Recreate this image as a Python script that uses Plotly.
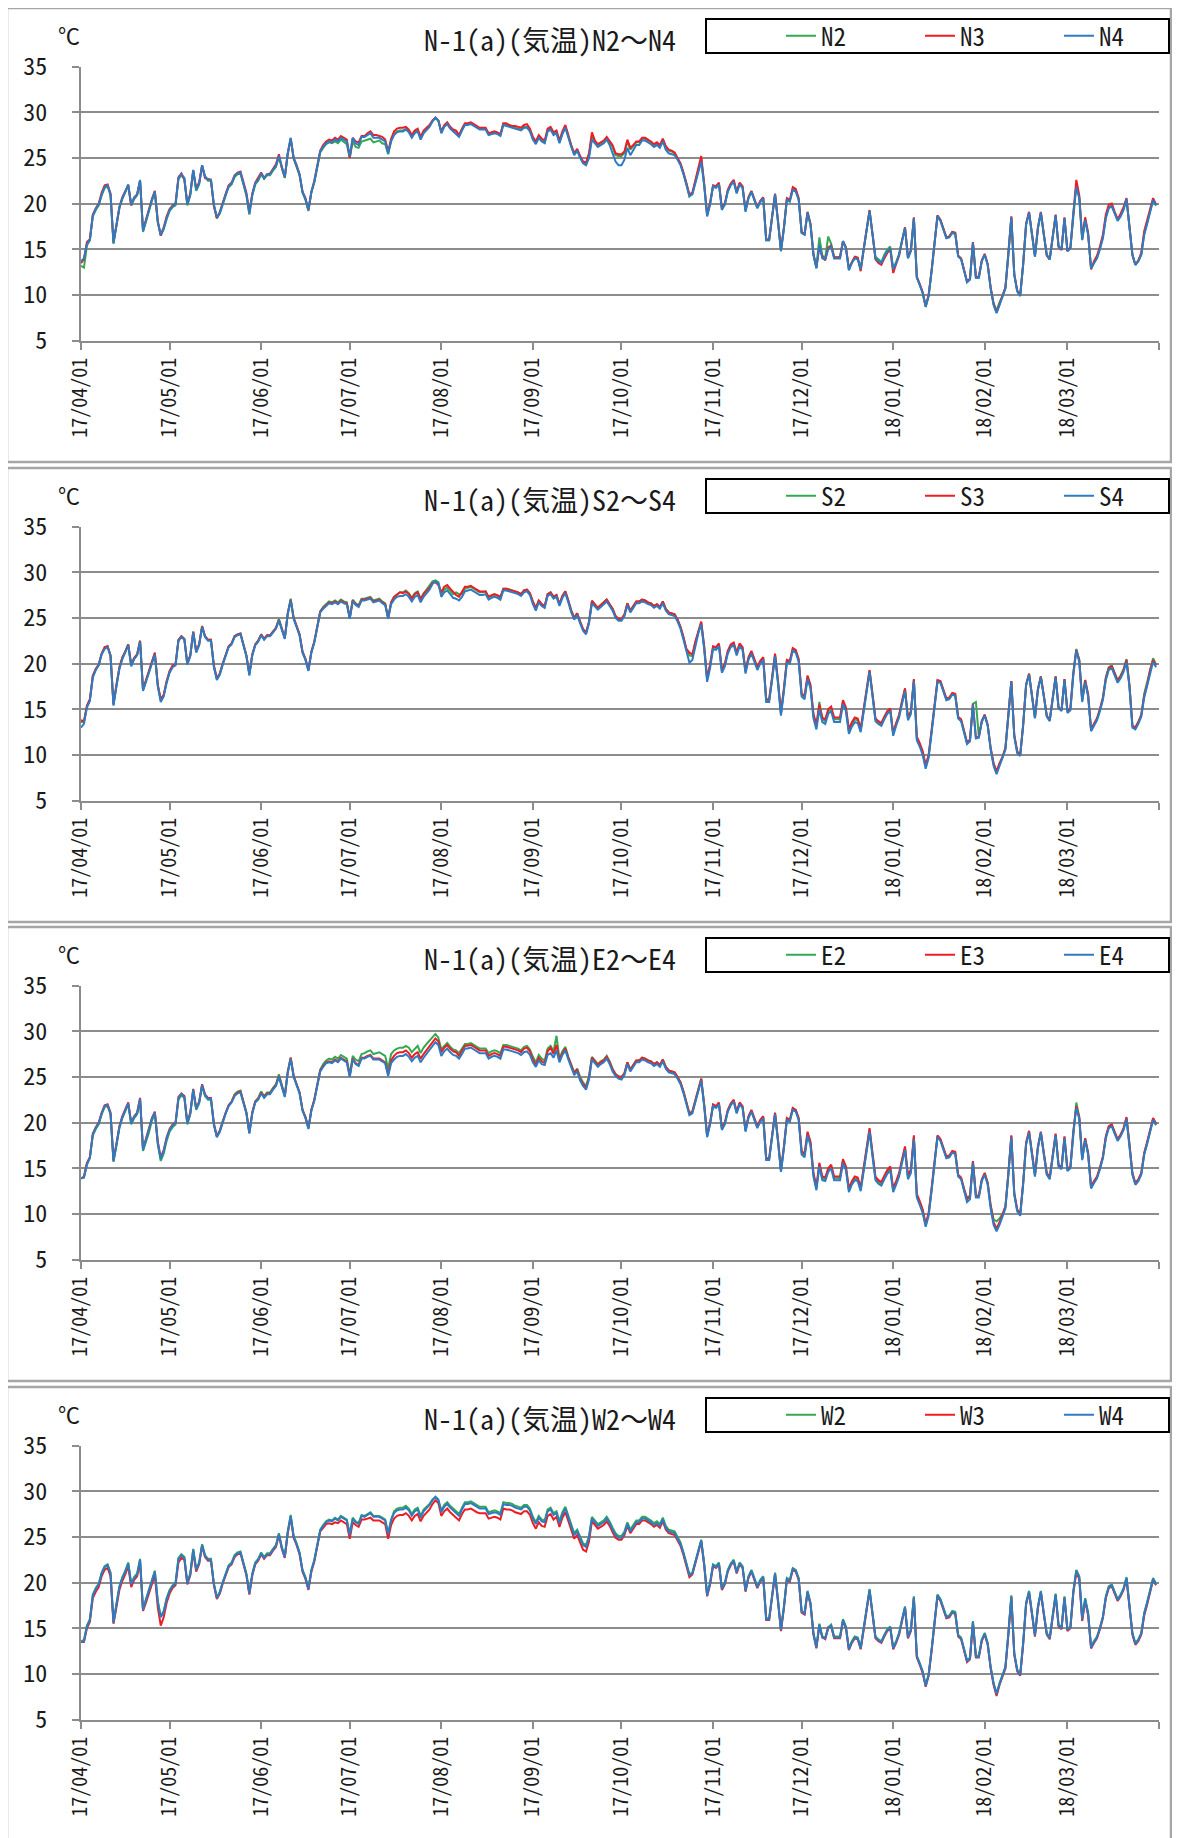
import pandas as pd
import plotly.graph_objects as go

# daily mean air temperature, 2017-04-01 .. 2018-03-31 (one value per day)
START = "2017-04-01"
END = "2018-04-01"

N2 = [
    13.2, 13.0, 15.4, 16.0, 18.6, 19.3, 19.8, 20.9, 21.7, 21.9, 20.9, 15.6, 17.6, 19.5, 20.5, 21.2, 22.0, 19.8, 20.5, 20.9, 22.5, 16.9, 18.1, 19.1, 20.3, 21.2, 17.9, 16.5, 17.2, 18.3,
    19.2, 19.6, 19.8, 22.7, 23.1, 22.7, 19.8, 20.9, 23.6, 21.4, 22.1, 24.1, 22.9, 22.5, 22.5, 19.8, 18.4, 18.9, 20.0, 20.9, 21.8, 22.1, 22.9, 23.2, 23.3, 22.1, 20.9, 18.8, 20.9, 22.1, 22.5,
    23.2, 22.7, 23.1, 23.1, 23.6, 24.0, 25.1, 23.8, 22.8, 25.4, 27.1, 24.9, 24.1, 23.1, 21.2, 20.4, 19.2, 21.2, 22.3, 24.1, 25.6, 26.1, 26.5, 26.7, 26.6, 26.8, 26.6, 27.0, 26.7, 26.5,
    25.0, 26.8, 26.2, 26.1, 26.8, 26.9, 27.0, 27.1, 26.7, 26.8, 26.9, 26.6, 26.5, 25.4, 26.9, 27.6, 27.9, 28.0, 28.0, 28.2, 27.9, 27.3, 27.8, 28.0, 27.1, 27.8, 28.1, 28.5, 29.0, 29.4, 29.1,
    27.8, 28.5, 28.8, 28.3, 28.0, 27.8, 27.4, 28.1, 28.7, 28.7, 28.8, 28.6, 28.4, 28.2, 28.2, 28.2, 27.6, 27.7, 27.8, 27.7, 27.5, 28.7, 28.6, 28.5, 28.4, 28.3, 28.2, 28.1, 28.4, 28.4, 28.0,
    27.1, 26.6, 27.3, 26.9, 26.7, 28.0, 28.2, 27.6, 27.8, 26.7, 27.7, 28.4, 27.3, 26.3, 25.4, 25.9, 25.1, 24.5, 24.3, 25.3, 27.4, 26.7, 26.3, 26.5, 26.7, 27.1, 26.6, 26.2, 25.3, 25.2,
    25.2, 25.5, 26.8, 25.9, 26.3, 26.7, 26.7, 27.1, 27.1, 26.9, 26.7, 26.4, 26.6, 26.3, 27.0, 26.2, 25.8, 25.7, 25.5, 24.9, 24.3, 23.3, 22.2, 20.8, 21.1, 22.4, 23.6, 24.9, 22.1, 18.7, 20.0,
    21.9, 21.8, 22.2, 19.4, 19.9, 21.4, 22.1, 22.5, 21.2, 22.2, 21.8, 19.2, 20.6, 21.3, 20.4, 19.5, 20.2, 20.6, 16.0, 16.0, 18.5, 21.0, 18.0, 14.8, 17.3, 20.5, 20.3, 21.6, 21.5, 20.5,
    16.8, 16.6, 19.0, 17.7, 14.4, 13.0, 16.3, 14.3, 14.1, 16.4, 15.6, 14.2, 14.1, 14.1, 15.9, 15.2, 12.8, 13.6, 14.1, 14.0, 12.9, 15.2, 17.3, 19.2, 16.7, 14.2, 13.9, 13.6, 14.4, 15.0, 15.3,
    12.9, 13.6, 14.5, 16.0, 17.4, 14.1, 14.9, 18.4, 11.9, 11.1, 10.2, 8.7, 9.9, 12.6, 15.5, 18.7, 18.2, 17.2, 16.3, 16.4, 16.9, 16.8, 14.3, 14.0, 12.6, 11.4, 11.7, 15.7, 11.9, 11.9, 13.7,
    14.4, 13.3, 10.8, 9.1, 8.3, 9.2, 9.9, 10.8, 14.4, 18.5, 12.2, 10.4, 9.9, 13.3, 17.7, 19.0, 16.6, 14.2, 17.3, 19.0, 16.6, 14.4, 13.9, 16.6, 18.7, 15.3, 15.0, 18.4,
    14.8, 15.1, 19.0, 22.0, 20.7, 16.1, 18.3, 16.7, 12.9, 13.5, 14.1, 15.1, 16.3, 18.5, 19.6, 19.8, 18.9, 18.2, 18.7, 19.4, 20.5, 17.7, 14.4, 13.3, 13.7, 14.4, 16.7, 17.9, 19.2, 20.4, 19.8,
]
N3 = [
    13.5, 13.9, 15.8, 16.1, 18.8, 19.5, 20.0, 21.2, 22.0, 22.1, 21.1, 15.8, 17.6, 19.6, 20.7, 21.3, 22.0, 19.8, 20.7, 21.0, 22.5, 17.1, 18.3, 19.3, 20.5, 21.4, 18.1, 16.5, 17.4, 18.6,
    19.4, 19.8, 20.0, 22.9, 23.3, 22.6, 20.0, 21.1, 23.6, 21.7, 22.3, 24.2, 22.8, 22.7, 22.6, 19.7, 18.4, 19.1, 20.2, 21.1, 22.0, 22.3, 23.1, 23.4, 23.5, 22.3, 21.2, 19.1, 21.1, 22.3, 22.8,
    23.4, 22.8, 23.2, 23.3, 23.8, 24.3, 25.4, 23.9, 22.9, 25.5, 27.1, 25.0, 24.2, 23.2, 21.3, 20.6, 19.3, 21.3, 22.5, 24.3, 25.8, 26.4, 26.8, 27.0, 26.9, 27.2, 27.0, 27.4, 27.2, 27.0,
    25.0, 27.2, 26.8, 26.7, 27.4, 27.4, 27.7, 27.9, 27.5, 27.5, 27.4, 27.3, 27.0, 25.7, 27.1, 27.9, 28.2, 28.3, 28.3, 28.4, 28.1, 27.5, 28.0, 28.2, 27.3, 28.0, 28.3, 28.6, 29.1, 29.4, 29.1,
    27.9, 28.6, 28.9, 28.4, 28.1, 28.0, 27.5, 28.2, 28.8, 28.8, 28.9, 28.7, 28.5, 28.3, 28.3, 28.3, 27.7, 27.8, 27.9, 27.8, 27.6, 28.8, 28.8, 28.6, 28.5, 28.5, 28.4, 28.3, 28.6, 28.7, 28.2,
    27.3, 26.8, 27.5, 27.1, 26.9, 28.2, 28.4, 27.8, 28.0, 26.9, 27.9, 28.6, 27.4, 26.4, 25.5, 26.0, 25.2, 24.6, 24.5, 25.5, 27.8, 26.9, 26.5, 26.7, 26.9, 27.3, 26.8, 26.4, 25.5, 25.4,
    25.4, 25.7, 27.0, 26.1, 26.4, 26.8, 26.8, 27.2, 27.2, 27.0, 26.8, 26.5, 26.7, 26.4, 27.1, 26.3, 25.9, 25.8, 25.6, 25.0, 24.4, 23.4, 22.3, 21.0, 21.2, 22.5, 23.8, 25.2, 22.2, 18.8, 20.1,
    22.0, 21.9, 22.3, 19.5, 20.0, 21.5, 22.2, 22.6, 21.3, 22.3, 21.9, 19.3, 20.7, 21.4, 20.5, 19.6, 20.3, 20.7, 16.1, 16.1, 18.6, 21.1, 18.1, 14.9, 17.4, 20.6, 20.4, 21.8, 21.6, 20.6,
    16.9, 16.7, 19.1, 17.8, 14.5, 13.0, 15.3, 14.2, 13.8, 15.2, 15.4, 14.1, 14.1, 14.2, 15.9, 15.2, 12.9, 13.6, 14.2, 14.1, 12.6, 15.0, 17.4, 19.3, 16.7, 13.9, 13.5, 13.3, 14.0, 14.6, 15.0,
    12.4, 13.4, 14.3, 15.9, 17.4, 14.1, 14.9, 18.5, 12.0, 11.2, 10.3, 8.8, 10.0, 12.7, 15.6, 18.7, 18.2, 17.2, 16.3, 16.4, 16.9, 16.8, 14.3, 14.0, 12.7, 11.5, 11.8, 15.8, 12.0, 12.0, 13.8,
    14.5, 13.4, 10.8, 9.0, 8.1, 9.0, 9.8, 10.8, 14.5, 18.6, 12.3, 10.5, 10.0, 13.4, 17.8, 19.1, 16.7, 14.3, 17.4, 19.1, 16.7, 14.3, 13.9, 16.7, 18.8, 15.3, 14.9, 18.5,
    14.8, 15.2, 19.1, 22.6, 20.9, 16.2, 18.5, 16.8, 12.8, 13.7, 14.3, 15.3, 16.6, 18.8, 19.9, 20.0, 19.1, 18.3, 18.9, 19.6, 20.6, 17.8, 14.4, 13.3, 13.8, 14.6, 17.0, 18.2, 19.4, 20.6, 19.9,
]
N4 = [
    13.7, 14.0, 15.6, 16.0, 18.7, 19.4, 19.9, 21.0, 21.8, 22.0, 21.0, 15.7, 17.7, 19.6, 20.6, 21.3, 22.1, 19.9, 20.6, 21.0, 22.6, 17.0, 18.2, 19.2, 20.4, 21.3, 18.0, 16.6, 17.3, 18.4,
    19.3, 19.7, 19.9, 22.8, 23.2, 22.8, 19.9, 21.0, 23.7, 21.5, 22.2, 24.2, 23.0, 22.6, 22.6, 19.9, 18.5, 19.0, 20.1, 21.0, 21.9, 22.2, 23.0, 23.3, 23.4, 22.2, 21.0, 18.9, 21.0, 22.2, 22.6,
    23.3, 22.8, 23.2, 23.2, 23.7, 24.1, 25.2, 23.9, 22.9, 25.5, 27.2, 25.0, 24.2, 23.2, 21.3, 20.5, 19.3, 21.3, 22.4, 24.2, 25.7, 26.2, 26.6, 26.8, 26.7, 27.0, 26.8, 27.2, 27.0, 26.8,
    25.2, 27.2, 26.6, 26.4, 27.3, 27.3, 27.5, 27.7, 27.2, 27.2, 27.2, 27.0, 26.8, 25.5, 26.8, 27.5, 27.8, 27.9, 27.9, 28.1, 27.8, 27.2, 27.7, 27.9, 27.0, 27.7, 28.0, 28.4, 29.0, 29.4, 29.1,
    27.7, 28.4, 28.7, 28.2, 27.9, 27.7, 27.3, 28.0, 28.6, 28.6, 28.7, 28.5, 28.3, 28.1, 28.1, 28.1, 27.5, 27.6, 27.7, 27.6, 27.4, 28.6, 28.5, 28.4, 28.3, 28.2, 28.1, 28.0, 28.3, 28.3, 27.9,
    27.0, 26.5, 27.2, 26.8, 26.6, 27.9, 28.1, 27.5, 27.7, 26.6, 27.6, 28.3, 27.2, 26.2, 25.3, 25.8, 25.0, 24.4, 24.2, 25.0, 27.0, 26.6, 26.2, 26.4, 26.6, 27.0, 26.4, 25.5, 24.6, 24.2,
    24.2, 24.8, 26.1, 25.3, 25.9, 26.4, 26.4, 26.9, 26.9, 26.7, 26.5, 26.2, 26.4, 26.1, 26.8, 25.9, 25.5, 25.4, 25.3, 24.8, 24.2, 23.2, 22.1, 20.8, 21.0, 22.3, 23.5, 24.6, 22.0, 18.6, 19.9,
    21.9, 21.7, 22.1, 19.3, 19.9, 21.3, 22.0, 22.4, 21.1, 22.1, 21.7, 19.1, 20.6, 21.3, 20.4, 19.5, 20.2, 20.6, 16.0, 16.0, 18.5, 21.0, 18.0, 14.8, 17.3, 20.4, 20.2, 21.5, 21.3, 20.4,
    16.8, 16.6, 19.0, 17.7, 14.4, 12.9, 15.5, 14.0, 13.9, 15.0, 15.3, 14.0, 14.0, 14.0, 15.9, 15.1, 12.7, 13.5, 14.0, 13.9, 12.8, 15.1, 17.3, 19.2, 16.6, 14.0, 13.7, 13.5, 14.2, 14.8, 15.1,
    12.8, 13.5, 14.4, 15.9, 17.3, 14.0, 14.8, 18.4, 11.9, 11.1, 10.2, 8.7, 9.9, 12.6, 15.5, 18.6, 18.1, 17.1, 16.2, 16.3, 16.8, 16.7, 14.2, 13.9, 12.6, 11.4, 11.7, 15.7, 11.9, 11.9, 13.7,
    14.4, 13.3, 10.7, 8.9, 8.0, 8.9, 9.7, 10.7, 14.4, 18.5, 12.2, 10.4, 9.9, 13.3, 17.7, 19.0, 16.6, 14.2, 17.3, 19.0, 16.6, 14.4, 13.9, 16.6, 18.7, 15.3, 15.0, 18.4,
    14.8, 15.1, 19.0, 21.8, 20.6, 16.0, 18.2, 16.6, 12.9, 13.5, 14.0, 15.0, 16.2, 18.4, 19.5, 19.7, 18.8, 18.1, 18.6, 19.3, 20.5, 17.7, 14.4, 13.3, 13.7, 14.4, 16.6, 17.8, 19.1, 20.4, 19.8,
]

S2 = [
    13.6, 13.6, 15.3, 16.0, 18.6, 19.4, 19.9, 21.1, 21.7, 21.9, 20.9, 15.5, 17.6, 19.5, 20.6, 21.3, 22.1, 19.8, 20.6, 21.0, 22.5, 17.1, 18.1, 19.1, 20.3, 21.1, 17.6, 16.0, 16.5, 18.0,
    19.1, 19.7, 19.9, 22.6, 23.0, 22.7, 20.0, 20.9, 23.5, 21.3, 22.1, 24.1, 23.0, 22.6, 22.6, 19.7, 18.3, 18.9, 20.0, 20.9, 21.9, 22.2, 23.0, 23.2, 23.3, 22.1, 20.9, 18.8, 21.0, 22.1, 22.5,
    23.2, 22.7, 23.1, 23.1, 23.5, 23.9, 24.9, 23.8, 22.8, 25.5, 27.1, 25.0, 24.2, 23.2, 21.3, 20.5, 19.3, 21.3, 22.4, 24.1, 25.7, 26.2, 26.5, 26.8, 26.7, 26.9, 26.7, 27.0, 26.8, 26.7,
    25.0, 27.0, 26.6, 26.4, 27.1, 27.1, 27.2, 27.3, 26.9, 27.0, 27.1, 26.8, 26.6, 25.0, 26.7, 27.3, 27.6, 27.8, 27.8, 28.0, 27.7, 27.2, 27.7, 27.9, 27.1, 27.7, 28.1, 28.5, 29.0, 29.1, 28.9,
    27.6, 28.1, 28.3, 27.9, 27.6, 27.8, 27.6, 27.6, 28.2, 28.3, 28.4, 28.2, 28.0, 27.8, 27.8, 27.9, 27.3, 27.4, 27.5, 27.4, 27.2, 28.2, 28.2, 28.1, 28.0, 27.9, 27.8, 27.6, 28.0, 28.1, 27.7,
    26.7, 26.0, 26.9, 26.5, 26.3, 27.6, 27.8, 27.3, 27.5, 26.5, 27.4, 27.9, 26.9, 25.8, 25.0, 25.5, 24.6, 23.7, 23.3, 24.5, 26.8, 26.5, 26.1, 26.4, 26.7, 27.0, 26.5, 26.0, 25.2, 24.8,
    24.8, 25.3, 26.6, 25.8, 26.3, 26.8, 26.8, 27.0, 26.9, 26.7, 26.6, 26.3, 26.5, 26.2, 26.8, 26.0, 25.6, 25.5, 25.4, 24.8, 24.0, 22.8, 21.5, 20.9, 20.8, 22.3, 23.5, 24.5, 21.8, 18.2, 19.8,
    21.8, 21.7, 22.1, 19.2, 19.9, 21.3, 22.0, 22.2, 21.1, 22.1, 21.7, 19.1, 20.6, 21.3, 20.4, 19.5, 20.2, 20.6, 16.0, 16.0, 18.4, 21.0, 18.0, 14.5, 17.2, 20.3, 20.2, 21.6, 21.4, 20.4,
    16.6, 16.3, 18.5, 17.5, 14.3, 13.1, 15.8, 13.9, 13.7, 14.8, 15.1, 13.9, 13.9, 13.9, 15.8, 15.0, 12.6, 13.4, 13.9, 13.8, 12.7, 15.0, 17.2, 19.2, 16.6, 13.9, 13.6, 13.4, 14.1, 14.7, 15.0,
    12.3, 13.4, 14.3, 15.8, 17.2, 14.0, 14.7, 18.2, 11.8, 11.1, 10.2, 8.7, 9.9, 12.6, 15.5, 18.1, 18.0, 17.0, 16.1, 16.2, 16.7, 16.6, 14.1, 13.8, 12.5, 11.3, 11.6, 15.6, 15.8, 12.0, 13.7,
    14.4, 13.3, 10.7, 9.0, 8.1, 9.0, 9.7, 10.7, 14.4, 18.1, 12.1, 10.3, 10.0, 13.3, 17.7, 18.9, 16.5, 14.1, 17.2, 18.6, 16.5, 14.3, 13.8, 16.5, 18.6, 15.2, 14.9, 18.3,
    14.8, 15.1, 19.0, 21.6, 20.4, 16.0, 18.2, 16.6, 12.8, 13.4, 14.0, 15.0, 16.3, 18.5, 19.6, 19.8, 18.9, 18.2, 18.7, 19.4, 20.5, 17.7, 13.2, 13.0, 13.6, 14.4, 16.7, 17.9, 19.4, 20.6, 19.9,
]
S3 = [
    13.8, 13.7, 15.4, 16.1, 18.7, 19.4, 19.9, 21.1, 21.8, 21.9, 20.9, 15.6, 17.7, 19.6, 20.7, 21.3, 22.1, 19.9, 20.6, 21.0, 22.5, 17.2, 18.2, 19.2, 20.4, 21.2, 17.7, 16.1, 16.6, 18.1,
    19.2, 19.8, 19.9, 22.6, 23.0, 22.7, 20.0, 20.9, 23.5, 21.4, 22.1, 24.1, 23.0, 22.6, 22.6, 19.8, 18.4, 18.9, 20.0, 20.9, 21.9, 22.2, 23.0, 23.2, 23.3, 22.1, 20.9, 18.9, 21.0, 22.1, 22.5,
    23.2, 22.7, 23.1, 23.1, 23.5, 23.9, 24.8, 23.8, 22.8, 25.5, 27.0, 25.0, 24.2, 23.2, 21.3, 20.5, 19.3, 21.3, 22.4, 24.1, 25.7, 26.1, 26.4, 26.7, 26.6, 26.8, 26.6, 26.9, 26.7, 26.6,
    25.0, 26.9, 26.5, 26.3, 27.0, 27.0, 27.1, 27.2, 26.8, 26.9, 27.0, 26.7, 26.5, 25.0, 26.7, 27.3, 27.6, 27.8, 27.7, 27.9, 27.6, 27.1, 27.6, 27.8, 27.0, 27.6, 28.0, 28.3, 28.8, 28.9, 28.6,
    27.8, 28.4, 28.6, 28.2, 27.8, 27.5, 27.3, 27.8, 28.4, 28.4, 28.5, 28.3, 28.1, 27.9, 27.9, 27.9, 27.3, 27.5, 27.6, 27.5, 27.3, 28.2, 28.2, 28.1, 28.0, 27.9, 27.8, 27.6, 28.0, 28.1, 27.7,
    26.8, 26.1, 26.9, 26.5, 26.3, 27.6, 27.8, 27.3, 27.5, 26.5, 27.4, 27.9, 26.9, 25.8, 25.0, 25.5, 24.6, 23.8, 23.4, 24.6, 26.9, 26.5, 26.1, 26.4, 26.7, 27.0, 26.5, 26.0, 25.2, 24.9,
    24.9, 25.4, 26.6, 25.8, 26.3, 26.8, 26.8, 27.0, 26.9, 26.7, 26.6, 26.3, 26.5, 26.2, 26.8, 26.0, 25.6, 25.5, 25.4, 24.8, 24.0, 22.9, 21.6, 21.2, 21.0, 22.4, 23.6, 24.6, 21.9, 18.4, 19.9,
    21.9, 21.8, 22.2, 19.3, 20.0, 21.4, 22.1, 22.3, 21.2, 22.2, 21.8, 19.2, 20.7, 21.4, 20.5, 19.6, 20.3, 20.7, 16.1, 16.1, 18.5, 21.1, 18.1, 14.6, 17.3, 20.4, 20.3, 21.7, 21.5, 20.5,
    16.7, 16.5, 18.7, 17.7, 14.5, 13.3, 15.5, 14.1, 13.9, 15.0, 15.3, 14.1, 14.1, 14.1, 16.0, 15.2, 12.8, 13.6, 14.1, 14.0, 12.9, 15.2, 17.3, 19.3, 16.7, 14.0, 13.7, 13.5, 14.2, 14.8, 15.1,
    12.4, 13.5, 14.4, 15.9, 17.3, 14.1, 14.8, 18.3, 12.0, 11.3, 10.4, 8.9, 10.0, 12.7, 15.6, 18.2, 18.1, 17.1, 16.2, 16.3, 16.8, 16.7, 14.2, 13.9, 12.6, 11.4, 11.7, 15.6, 11.9, 12.0, 13.7,
    14.4, 13.3, 10.8, 9.1, 8.2, 9.1, 9.8, 10.8, 14.4, 18.1, 12.2, 10.4, 10.0, 13.3, 17.7, 18.9, 16.5, 14.1, 17.2, 18.6, 16.5, 14.3, 13.8, 16.5, 18.6, 15.2, 14.9, 18.3,
    14.8, 15.1, 19.0, 21.5, 20.4, 16.0, 18.2, 16.6, 12.8, 13.4, 14.0, 15.0, 16.2, 18.4, 19.5, 19.7, 18.8, 18.1, 18.6, 19.3, 20.4, 17.6, 13.2, 13.0, 13.6, 14.4, 16.5, 17.7, 19.3, 20.4, 19.8,
]
S4 = [
    13.0, 13.4, 15.2, 15.9, 18.5, 19.3, 19.8, 21.0, 21.6, 21.8, 20.8, 15.4, 17.5, 19.4, 20.5, 21.2, 22.0, 19.7, 20.5, 20.9, 22.4, 17.0, 18.0, 19.0, 20.2, 21.0, 17.5, 15.8, 16.4, 17.9,
    19.0, 19.6, 19.8, 22.5, 22.9, 22.6, 19.9, 20.8, 23.4, 21.2, 22.0, 24.0, 22.9, 22.5, 22.5, 19.6, 18.2, 18.8, 19.9, 20.8, 21.8, 22.1, 22.9, 23.1, 23.2, 22.0, 20.8, 18.7, 20.9, 22.0, 22.4,
    23.1, 22.6, 23.0, 23.0, 23.4, 23.8, 24.7, 23.7, 22.7, 25.4, 26.9, 24.9, 24.1, 23.1, 21.2, 20.4, 19.2, 21.2, 22.3, 24.0, 25.6, 26.0, 26.3, 26.6, 26.5, 26.7, 26.5, 26.8, 26.6, 26.5,
    24.9, 26.8, 26.4, 26.2, 26.9, 26.9, 27.0, 27.1, 26.7, 26.8, 26.9, 26.6, 26.4, 24.9, 26.5, 27.0, 27.3, 27.4, 27.4, 27.6, 27.3, 26.8, 27.3, 27.5, 26.7, 27.3, 27.7, 28.1, 28.7, 29.0, 28.8,
    27.3, 27.8, 28.0, 27.6, 27.2, 27.1, 26.9, 27.3, 27.9, 28.0, 28.1, 27.9, 27.7, 27.5, 27.5, 27.6, 27.0, 27.2, 27.3, 27.2, 27.0, 28.0, 28.0, 27.9, 27.8, 27.7, 27.6, 27.4, 27.8, 27.9, 27.5,
    26.5, 25.8, 26.7, 26.3, 26.1, 27.4, 27.6, 27.1, 27.3, 26.3, 27.2, 27.7, 26.7, 25.6, 24.8, 25.3, 24.4, 23.6, 23.2, 24.4, 26.6, 26.3, 25.9, 26.2, 26.5, 26.8, 26.3, 25.8, 25.0, 24.7,
    24.7, 25.2, 26.4, 25.6, 26.1, 26.6, 26.6, 26.8, 26.7, 26.5, 26.4, 26.1, 26.3, 26.0, 26.6, 25.8, 25.4, 25.3, 25.2, 24.6, 23.8, 22.6, 21.2, 20.1, 20.4, 22.0, 23.3, 24.3, 21.6, 18.0, 19.5,
    21.6, 21.5, 21.9, 19.0, 19.7, 21.1, 21.8, 22.0, 20.9, 21.9, 21.5, 18.9, 20.4, 21.1, 20.2, 19.3, 20.0, 20.4, 15.8, 15.8, 18.2, 20.8, 17.8, 14.3, 17.0, 20.1, 20.0, 21.4, 21.2, 20.2,
    16.4, 16.1, 18.3, 17.3, 14.0, 12.8, 15.0, 13.6, 13.4, 14.5, 14.8, 13.6, 13.6, 13.6, 15.6, 14.8, 12.3, 13.1, 13.6, 13.5, 12.5, 14.8, 17.0, 19.1, 16.4, 13.7, 13.4, 13.2, 13.9, 14.5, 14.8,
    12.1, 13.2, 14.1, 15.6, 17.0, 13.8, 14.5, 18.1, 11.6, 10.9, 10.0, 8.5, 9.7, 12.4, 15.3, 18.0, 17.9, 16.9, 16.0, 16.1, 16.6, 16.5, 14.0, 13.7, 12.4, 11.2, 11.5, 15.5, 11.8, 11.9, 13.6,
    14.3, 13.2, 10.6, 8.8, 7.9, 8.8, 9.6, 10.6, 14.3, 18.0, 12.0, 10.2, 9.9, 13.2, 17.6, 18.8, 16.4, 14.0, 17.1, 18.5, 16.4, 14.2, 13.7, 16.4, 18.5, 15.1, 14.8, 18.2,
    14.6, 14.9, 18.8, 21.4, 20.2, 15.8, 18.0, 16.4, 12.6, 13.2, 13.8, 14.8, 16.0, 18.2, 19.3, 19.5, 18.6, 17.9, 18.4, 19.1, 20.2, 17.4, 13.0, 12.8, 13.4, 14.2, 16.3, 17.5, 19.0, 20.2, 19.6,
]

E2 = [
    13.9, 14.0, 15.4, 16.1, 18.6, 19.3, 19.8, 20.9, 21.7, 21.8, 20.9, 15.7, 17.5, 19.4, 20.5, 21.2, 22.0, 19.8, 20.5, 20.9, 22.5, 16.9, 17.9, 18.9, 20.2, 21.0, 17.6, 15.8, 16.6, 18.0,
    19.0, 19.5, 19.8, 22.5, 23.0, 22.7, 19.8, 20.9, 23.5, 21.4, 22.1, 24.0, 22.9, 22.5, 22.5, 19.7, 18.5, 19.1, 20.2, 21.1, 21.9, 22.3, 23.1, 23.4, 23.5, 22.3, 21.1, 18.9, 21.1, 22.3, 22.7,
    23.4, 22.9, 23.3, 23.3, 23.8, 24.2, 25.3, 24.0, 23.0, 25.6, 27.1, 25.1, 24.3, 23.3, 21.4, 20.6, 19.4, 21.4, 22.5, 24.3, 25.8, 26.4, 26.8, 27.0, 26.9, 27.2, 27.0, 27.4, 27.2, 27.0,
    25.2, 27.3, 26.9, 26.7, 27.5, 27.6, 27.8, 27.9, 27.5, 27.6, 27.7, 27.5, 27.3, 25.9, 27.5, 27.9, 28.1, 28.2, 28.2, 28.4, 28.2, 27.7, 28.1, 28.4, 27.6, 28.2, 28.6, 29.0, 29.4, 29.7, 29.3,
    28.0, 28.4, 28.7, 28.3, 28.0, 27.9, 27.6, 28.1, 28.6, 28.6, 28.7, 28.5, 28.3, 28.1, 28.1, 28.1, 27.6, 27.8, 27.9, 27.8, 27.6, 28.5, 28.5, 28.4, 28.3, 28.2, 28.1, 27.9, 28.3, 28.4, 28.0,
    27.2, 26.6, 27.4, 27.0, 26.8, 28.1, 28.4, 27.8, 29.5, 27.0, 27.8, 28.3, 27.2, 26.3, 25.5, 25.9, 25.0, 24.4, 24.0, 25.1, 27.2, 26.8, 26.4, 26.7, 26.9, 27.3, 26.7, 25.9, 25.3, 25.1,
    25.0, 25.4, 26.6, 25.8, 26.3, 26.8, 26.8, 27.1, 27.0, 26.8, 26.7, 26.4, 26.6, 26.3, 26.9, 26.1, 25.7, 25.6, 25.5, 25.0, 24.4, 23.4, 22.3, 21.0, 21.2, 22.5, 23.7, 24.8, 22.0, 18.5, 19.9,
    21.9, 21.7, 22.1, 19.3, 19.9, 21.3, 22.0, 22.4, 21.1, 22.1, 21.7, 19.1, 20.6, 21.3, 20.4, 19.5, 20.2, 20.6, 16.0, 16.0, 18.5, 21.0, 18.0, 14.7, 17.3, 20.4, 20.2, 21.6, 21.4, 20.4,
    16.7, 16.4, 18.8, 17.7, 14.3, 12.8, 15.4, 13.9, 13.8, 14.8, 15.2, 13.9, 13.9, 13.9, 15.8, 15.0, 12.6, 13.4, 13.9, 13.8, 12.7, 15.0, 17.2, 19.2, 16.5, 13.9, 13.5, 13.3, 14.0, 14.6, 15.0,
    12.6, 13.4, 14.3, 15.8, 17.2, 14.0, 14.7, 18.4, 12.0, 11.2, 10.3, 8.8, 10.0, 12.7, 15.6, 18.5, 18.1, 17.1, 16.2, 16.3, 16.8, 16.7, 14.2, 13.9, 12.6, 11.8, 12.0, 15.7, 12.1, 11.9, 13.7,
    14.4, 13.4, 11.0, 9.4, 9.2, 9.5, 10.0, 10.8, 14.4, 18.5, 12.2, 10.4, 9.9, 13.3, 17.7, 19.0, 16.6, 14.2, 17.3, 18.9, 16.6, 14.4, 13.9, 16.6, 18.7, 15.3, 15.0, 18.4,
    14.8, 15.1, 19.0, 22.2, 20.6, 16.0, 18.2, 16.6, 12.9, 13.5, 14.0, 15.0, 16.2, 18.4, 19.5, 19.8, 18.8, 18.1, 18.6, 19.3, 20.5, 17.7, 14.4, 13.3, 13.7, 14.4, 16.6, 17.8, 19.1, 20.4, 19.8,
]
E3 = [
    13.9, 14.1, 15.6, 16.2, 18.8, 19.5, 20.0, 21.1, 21.9, 22.0, 21.1, 15.9, 17.7, 19.6, 20.7, 21.4, 22.2, 20.0, 20.7, 21.1, 22.7, 17.1, 18.2, 19.2, 20.5, 21.2, 17.9, 16.2, 17.0, 18.4,
    19.3, 19.8, 20.0, 22.8, 23.2, 22.9, 20.0, 21.1, 23.7, 21.6, 22.3, 24.2, 23.1, 22.7, 22.7, 19.9, 18.5, 19.1, 20.2, 21.1, 21.9, 22.3, 23.0, 23.3, 23.4, 22.3, 21.1, 18.9, 21.1, 22.3, 22.6,
    23.3, 22.8, 23.2, 23.2, 23.7, 24.1, 25.1, 23.9, 22.9, 25.5, 27.1, 25.1, 24.3, 23.3, 21.4, 20.6, 19.4, 21.4, 22.5, 24.3, 25.7, 26.2, 26.6, 26.7, 26.6, 26.9, 26.7, 27.1, 26.9, 26.7,
    25.1, 27.0, 26.5, 26.3, 27.1, 27.1, 27.3, 27.4, 27.0, 27.0, 27.0, 26.8, 26.6, 25.3, 26.8, 27.3, 27.6, 27.7, 27.7, 27.9, 27.6, 27.1, 27.5, 27.7, 27.0, 27.5, 27.9, 28.3, 28.8, 29.2, 28.9,
    27.7, 28.2, 28.5, 28.1, 27.8, 27.7, 27.3, 27.9, 28.4, 28.4, 28.5, 28.3, 28.1, 27.9, 27.9, 27.9, 27.3, 27.5, 27.6, 27.5, 27.3, 28.3, 28.3, 28.2, 28.1, 28.0, 27.9, 27.7, 28.1, 28.2, 27.8,
    26.9, 26.3, 27.1, 26.7, 26.5, 27.8, 28.2, 27.5, 28.5, 26.8, 27.6, 28.1, 27.1, 26.2, 25.4, 25.8, 24.8, 24.2, 23.8, 24.9, 27.1, 26.7, 26.3, 26.6, 26.8, 27.2, 26.6, 25.8, 25.3, 25.0,
    24.9, 25.4, 26.6, 25.8, 26.3, 26.8, 26.8, 27.1, 27.0, 26.8, 26.7, 26.4, 26.6, 26.3, 26.9, 26.1, 25.7, 25.6, 25.5, 25.0, 24.4, 23.4, 22.3, 21.0, 21.2, 22.5, 23.7, 24.8, 22.0, 18.6, 20.0,
    22.0, 21.8, 22.2, 19.4, 20.0, 21.4, 22.1, 22.5, 21.2, 22.2, 21.8, 19.2, 20.7, 21.4, 20.5, 19.6, 20.3, 20.7, 16.1, 16.1, 18.6, 21.1, 18.1, 14.8, 17.4, 20.5, 20.3, 21.6, 21.4, 20.5,
    16.9, 16.6, 19.0, 17.9, 14.5, 13.0, 15.6, 14.1, 14.0, 15.0, 15.4, 14.1, 14.1, 14.1, 16.0, 15.2, 12.8, 13.6, 14.1, 14.0, 12.9, 15.2, 17.4, 19.4, 16.7, 14.1, 13.7, 13.5, 14.2, 14.8, 15.2,
    12.8, 13.6, 14.5, 16.0, 17.4, 14.2, 14.9, 18.6, 12.2, 11.4, 10.5, 8.9, 10.1, 12.8, 15.7, 18.6, 18.2, 17.2, 16.3, 16.4, 16.9, 16.8, 14.3, 14.0, 12.7, 11.6, 11.9, 15.8, 12.0, 12.0, 13.8,
    14.5, 13.4, 10.9, 9.1, 8.4, 9.1, 9.9, 10.8, 14.5, 18.6, 12.3, 10.5, 10.0, 13.4, 17.8, 19.1, 16.7, 14.3, 17.4, 19.0, 16.7, 14.5, 14.0, 16.7, 18.8, 15.4, 15.1, 18.5,
    14.9, 15.2, 19.1, 21.8, 20.6, 16.1, 18.3, 16.7, 13.0, 13.6, 14.1, 15.1, 16.3, 18.5, 19.6, 19.8, 18.9, 18.2, 18.7, 19.4, 20.6, 17.8, 14.5, 13.4, 13.8, 14.5, 16.7, 17.9, 19.2, 20.5, 19.9,
]
E4 = [
    13.9, 14.0, 15.4, 16.2, 18.7, 19.4, 19.9, 21.0, 21.8, 21.9, 21.0, 15.8, 17.6, 19.5, 20.6, 21.3, 22.1, 19.9, 20.6, 21.0, 22.6, 17.0, 18.1, 19.1, 20.4, 21.1, 17.8, 16.0, 16.9, 18.3,
    19.2, 19.7, 19.9, 22.7, 23.1, 22.8, 19.9, 21.0, 23.6, 21.5, 22.2, 24.1, 23.0, 22.6, 22.6, 19.8, 18.4, 19.0, 20.1, 21.0, 21.8, 22.2, 22.9, 23.2, 23.3, 22.2, 21.0, 18.8, 21.0, 22.2, 22.5,
    23.2, 22.7, 23.1, 23.1, 23.6, 24.0, 25.0, 23.8, 22.8, 25.4, 27.0, 25.0, 24.2, 23.2, 21.3, 20.5, 19.3, 21.3, 22.4, 24.2, 25.6, 26.1, 26.5, 26.6, 26.5, 26.8, 26.6, 27.0, 26.8, 26.6,
    25.0, 26.9, 26.4, 26.2, 27.0, 27.0, 27.2, 27.3, 26.9, 26.9, 26.9, 26.7, 26.5, 25.1, 26.5, 26.9, 27.2, 27.3, 27.3, 27.5, 27.2, 26.7, 27.1, 27.3, 26.6, 27.1, 27.5, 27.9, 28.4, 28.8, 28.5,
    27.3, 27.8, 28.1, 27.7, 27.4, 27.3, 27.0, 27.5, 28.1, 28.1, 28.2, 28.0, 27.8, 27.6, 27.6, 27.6, 27.0, 27.2, 27.3, 27.2, 27.0, 28.0, 28.0, 27.9, 27.8, 27.7, 27.6, 27.4, 27.7, 27.8, 27.4,
    26.6, 26.1, 26.8, 26.4, 26.3, 27.4, 27.6, 27.1, 27.9, 26.6, 27.4, 27.9, 26.9, 26.0, 25.2, 25.6, 24.6, 24.0, 23.6, 24.7, 26.9, 26.5, 26.1, 26.4, 26.6, 27.0, 26.4, 25.6, 25.1, 24.8,
    24.7, 25.2, 26.4, 25.6, 26.1, 26.6, 26.6, 26.9, 26.8, 26.6, 26.5, 26.2, 26.4, 26.1, 26.7, 25.9, 25.5, 25.4, 25.3, 24.8, 24.2, 23.2, 22.1, 20.8, 21.0, 22.3, 23.5, 24.6, 21.8, 18.4, 19.8,
    21.8, 21.6, 22.0, 19.2, 19.8, 21.2, 21.9, 22.3, 21.0, 22.0, 21.6, 19.0, 20.5, 21.2, 20.3, 19.4, 20.1, 20.5, 15.9, 15.9, 18.4, 20.9, 17.9, 14.6, 17.2, 20.3, 20.1, 21.4, 21.2, 20.3,
    16.5, 16.2, 18.6, 17.5, 14.1, 12.6, 15.2, 13.7, 13.6, 14.6, 15.0, 13.7, 13.7, 13.7, 15.6, 14.8, 12.4, 13.2, 13.7, 13.6, 12.5, 14.8, 17.0, 19.0, 16.3, 13.7, 13.3, 13.1, 13.8, 14.4, 14.8,
    12.4, 13.2, 14.1, 15.6, 17.0, 13.8, 14.5, 18.2, 11.8, 11.0, 10.1, 8.6, 9.8, 12.5, 15.4, 18.4, 18.0, 17.0, 16.1, 16.2, 16.7, 16.6, 14.1, 13.8, 12.5, 11.3, 11.6, 15.6, 11.8, 11.8, 13.6,
    14.3, 13.2, 10.6, 8.8, 8.1, 8.8, 9.6, 10.6, 14.3, 18.4, 12.1, 10.3, 9.8, 13.2, 17.6, 18.9, 16.5, 14.1, 17.2, 18.9, 16.5, 14.3, 13.8, 16.5, 18.6, 15.2, 14.9, 18.3,
    14.7, 15.0, 18.9, 21.6, 20.4, 15.9, 18.1, 16.5, 12.8, 13.4, 13.9, 14.9, 16.1, 18.3, 19.4, 19.6, 18.7, 18.0, 18.5, 19.2, 20.4, 17.6, 14.3, 13.2, 13.6, 14.3, 16.5, 17.7, 19.0, 20.3, 19.7,
]

W2 = [
    13.6, 13.7, 15.3, 16.0, 18.7, 19.4, 19.9, 21.1, 21.8, 22.0, 21.1, 15.7, 17.7, 19.6, 20.6, 21.3, 22.2, 19.9, 20.6, 21.0, 22.6, 17.1, 18.2, 19.2, 20.4, 21.3, 18.0, 16.3, 16.9, 18.3,
    19.2, 19.7, 20.0, 22.7, 23.1, 22.8, 20.0, 21.0, 23.7, 21.5, 22.2, 24.2, 23.0, 22.6, 22.6, 19.9, 18.4, 19.0, 20.1, 21.0, 21.9, 22.2, 23.0, 23.3, 23.4, 22.2, 21.0, 18.9, 21.0, 22.2, 22.6,
    23.3, 22.8, 23.2, 23.2, 23.7, 24.1, 25.4, 23.9, 22.9, 25.6, 27.4, 25.1, 24.3, 23.3, 21.4, 20.6, 19.4, 21.4, 22.5, 24.3, 25.8, 26.3, 26.7, 26.9, 26.8, 27.1, 26.9, 27.3, 27.1, 26.9,
    25.3, 27.1, 26.7, 26.5, 27.4, 27.3, 27.5, 27.7, 27.3, 27.3, 27.3, 27.1, 26.9, 25.4, 26.9, 27.8, 28.1, 28.2, 28.2, 28.4, 28.1, 27.5, 28.0, 28.2, 27.3, 28.0, 28.3, 28.6, 29.1, 29.3, 29.0,
    27.9, 28.5, 28.8, 28.4, 28.1, 27.9, 27.5, 28.2, 28.8, 28.8, 28.9, 28.7, 28.5, 28.3, 28.3, 28.3, 27.7, 27.8, 27.9, 27.8, 27.6, 28.8, 28.7, 28.7, 28.6, 28.4, 28.3, 28.2, 28.5, 28.5, 28.1,
    27.2, 26.6, 27.3, 26.9, 26.8, 28.0, 28.2, 27.6, 27.8, 26.7, 27.7, 28.3, 27.3, 26.2, 25.4, 25.8, 25.0, 24.3, 24.1, 25.1, 27.2, 26.8, 26.4, 26.6, 26.8, 27.2, 26.7, 26.0, 25.4, 25.1,
    25.1, 25.6, 26.6, 25.8, 26.3, 26.8, 26.8, 27.2, 27.2, 27.0, 26.8, 26.5, 26.7, 26.4, 27.1, 26.2, 25.8, 25.7, 25.6, 25.0, 24.4, 23.3, 22.2, 20.9, 21.1, 22.4, 23.6, 24.7, 22.1, 18.7, 20.0,
    22.0, 21.8, 22.2, 19.4, 20.0, 21.4, 22.1, 22.5, 21.2, 22.2, 21.8, 19.2, 20.7, 21.4, 20.5, 19.6, 20.3, 20.7, 16.1, 16.1, 18.6, 21.1, 18.1, 14.9, 17.4, 20.5, 20.3, 21.6, 21.4, 20.5,
    16.9, 16.7, 19.1, 17.8, 14.5, 13.0, 15.5, 14.1, 14.0, 15.1, 15.4, 14.1, 14.1, 14.1, 16.0, 15.2, 12.8, 13.6, 14.1, 14.0, 12.9, 15.2, 17.4, 19.3, 16.7, 14.1, 13.8, 13.6, 14.3, 14.9, 15.2,
    12.9, 13.6, 14.5, 16.0, 17.4, 14.1, 14.9, 18.5, 12.0, 11.2, 10.3, 8.8, 10.0, 12.7, 15.6, 18.7, 18.2, 17.2, 16.3, 16.4, 16.9, 16.8, 14.3, 14.0, 12.7, 11.5, 11.8, 15.8, 12.0, 12.0, 13.8,
    14.5, 13.4, 10.8, 9.0, 7.9, 9.0, 9.8, 10.8, 14.5, 18.6, 12.3, 10.5, 10.0, 13.4, 17.8, 19.1, 16.7, 14.3, 17.4, 19.1, 16.7, 14.5, 14.0, 16.7, 18.8, 15.4, 15.1, 18.5,
    14.9, 15.2, 19.1, 21.4, 20.7, 16.1, 18.3, 16.7, 13.0, 13.6, 14.1, 15.1, 16.3, 18.5, 19.6, 19.8, 18.9, 18.2, 18.7, 19.4, 20.6, 17.8, 14.5, 13.4, 13.8, 14.5, 16.7, 17.9, 19.2, 20.5, 19.9,
]
W3 = [
    13.5, 13.5, 15.0, 15.7, 18.3, 19.0, 19.5, 20.7, 21.4, 21.6, 20.7, 15.5, 17.3, 19.2, 20.2, 20.9, 21.8, 19.5, 20.3, 20.7, 22.2, 16.9, 17.8, 18.8, 20.0, 20.8, 17.3, 15.3, 16.2, 17.8,
    18.8, 19.4, 19.7, 22.2, 22.7, 22.5, 19.8, 20.8, 23.4, 21.2, 22.0, 24.0, 22.8, 22.4, 22.4, 19.7, 18.2, 18.8, 19.9, 20.8, 21.7, 22.0, 22.8, 23.1, 23.2, 22.0, 20.8, 18.7, 20.8, 22.0, 22.4,
    23.1, 22.6, 23.0, 23.0, 23.5, 23.9, 25.2, 23.7, 22.7, 25.4, 27.1, 24.9, 24.1, 23.1, 21.2, 20.4, 19.2, 21.2, 22.3, 24.1, 25.6, 26.0, 26.4, 26.5, 26.4, 26.6, 26.5, 26.8, 26.6, 26.4,
    24.8, 26.6, 26.3, 26.1, 26.9, 26.9, 27.0, 27.1, 26.8, 26.8, 26.8, 26.6, 26.4, 24.8, 26.3, 27.0, 27.3, 27.4, 27.4, 27.6, 27.3, 26.8, 27.3, 27.5, 26.7, 27.3, 27.7, 28.0, 28.6, 29.0, 28.7,
    27.3, 27.8, 28.1, 27.7, 27.4, 27.1, 26.8, 27.5, 28.0, 28.0, 28.1, 27.9, 27.7, 27.6, 27.6, 27.6, 27.0, 27.1, 27.2, 27.1, 26.9, 28.1, 28.0, 28.0, 27.9, 27.7, 27.6, 27.5, 27.8, 27.8, 27.4,
    26.5, 25.9, 26.6, 26.2, 26.1, 27.3, 27.5, 26.9, 27.2, 26.1, 27.1, 27.7, 26.7, 25.7, 24.8, 25.2, 24.3, 23.6, 23.4, 24.5, 26.7, 26.3, 25.9, 26.1, 26.3, 26.7, 26.2, 25.5, 24.9, 24.7,
    24.7, 25.2, 26.2, 25.4, 25.9, 26.4, 26.4, 26.8, 26.8, 26.6, 26.4, 26.1, 26.3, 26.0, 26.7, 25.8, 25.4, 25.3, 25.2, 24.6, 24.0, 23.0, 21.9, 20.6, 20.9, 22.2, 23.4, 24.5, 21.9, 18.5, 19.8,
    21.8, 21.6, 22.0, 19.2, 19.8, 21.2, 21.9, 22.3, 21.0, 22.0, 21.6, 19.0, 20.5, 21.2, 20.3, 19.4, 20.1, 20.5, 15.9, 15.9, 18.4, 20.9, 17.9, 14.7, 17.2, 20.3, 20.1, 21.4, 21.2, 20.3,
    16.7, 16.5, 18.9, 17.6, 14.3, 12.8, 15.3, 14.0, 13.8, 15.1, 15.2, 13.9, 13.9, 13.9, 15.8, 15.0, 12.6, 13.4, 13.9, 13.8, 12.7, 15.0, 17.2, 19.1, 16.5, 13.9, 13.6, 13.4, 14.1, 14.7, 15.0,
    12.7, 13.4, 14.3, 15.8, 17.2, 13.9, 14.7, 18.3, 11.8, 11.0, 10.1, 8.6, 9.8, 12.5, 15.4, 18.5, 18.0, 17.0, 16.1, 16.2, 16.7, 16.6, 14.1, 13.8, 12.5, 11.3, 11.6, 15.6, 11.8, 11.8, 13.6,
    14.3, 13.2, 10.6, 8.8, 7.6, 8.8, 9.6, 10.6, 14.3, 18.4, 12.1, 10.3, 9.8, 13.2, 17.6, 18.9, 16.5, 14.1, 17.2, 18.9, 16.5, 14.3, 13.8, 16.5, 18.6, 15.2, 14.9, 18.3,
    14.7, 15.0, 18.9, 21.1, 20.4, 15.8, 18.0, 16.4, 12.8, 13.4, 13.9, 14.9, 16.1, 18.3, 19.4, 19.6, 18.7, 18.0, 18.5, 19.2, 20.4, 17.6, 14.3, 13.2, 13.6, 14.3, 16.4, 17.6, 19.0, 20.3, 19.7,
]
W4 = [
    13.5, 13.6, 15.2, 15.9, 18.6, 19.3, 19.8, 21.0, 21.7, 21.9, 21.0, 15.6, 17.6, 19.5, 20.5, 21.2, 22.1, 19.8, 20.5, 20.9, 22.5, 17.0, 18.1, 19.1, 20.3, 21.2, 17.9, 16.2, 16.8, 18.2,
    19.1, 19.6, 19.9, 22.6, 23.0, 22.7, 19.9, 20.9, 23.6, 21.4, 22.1, 24.1, 22.9, 22.5, 22.5, 19.8, 18.3, 18.9, 20.0, 20.9, 21.8, 22.1, 22.9, 23.2, 23.3, 22.1, 20.9, 18.8, 20.9, 22.1, 22.5,
    23.2, 22.7, 23.1, 23.1, 23.6, 24.0, 25.3, 23.8, 22.8, 25.5, 27.3, 25.0, 24.2, 23.2, 21.3, 20.5, 19.3, 21.3, 22.4, 24.2, 25.7, 26.2, 26.6, 26.8, 26.7, 27.0, 26.8, 27.2, 27.0, 26.8,
    25.2, 27.0, 26.6, 26.4, 27.3, 27.2, 27.4, 27.6, 27.2, 27.2, 27.2, 27.0, 26.8, 25.3, 26.8, 27.6, 27.9, 28.0, 28.0, 28.2, 27.9, 27.3, 27.8, 28.0, 27.1, 27.8, 28.1, 28.5, 29.0, 29.4, 29.1,
    27.7, 28.3, 28.6, 28.2, 27.9, 27.7, 27.3, 28.0, 28.6, 28.6, 28.7, 28.5, 28.3, 28.1, 28.1, 28.1, 27.5, 27.6, 27.7, 27.6, 27.4, 28.6, 28.5, 28.5, 28.4, 28.2, 28.1, 28.0, 28.3, 28.3, 27.9,
    27.0, 26.4, 27.1, 26.7, 26.6, 27.8, 28.0, 27.4, 27.6, 26.5, 27.5, 28.1, 27.1, 26.0, 25.2, 25.6, 24.8, 24.1, 23.9, 24.9, 27.0, 26.6, 26.2, 26.4, 26.6, 27.0, 26.5, 25.8, 25.2, 24.9,
    24.9, 25.4, 26.4, 25.6, 26.1, 26.6, 26.6, 27.0, 27.0, 26.8, 26.6, 26.3, 26.5, 26.2, 26.9, 26.0, 25.6, 25.5, 25.4, 24.8, 24.2, 23.2, 22.1, 20.8, 21.0, 22.3, 23.5, 24.6, 22.0, 18.6, 19.9,
    21.9, 21.7, 22.1, 19.3, 19.9, 21.3, 22.0, 22.4, 21.1, 22.1, 21.7, 19.1, 20.6, 21.3, 20.4, 19.5, 20.2, 20.6, 16.0, 16.0, 18.5, 21.0, 18.0, 14.8, 17.3, 20.4, 20.2, 21.5, 21.3, 20.4,
    16.8, 16.6, 19.0, 17.7, 14.4, 12.9, 15.4, 14.0, 13.9, 15.0, 15.3, 14.0, 14.0, 14.0, 15.9, 15.1, 12.7, 13.5, 14.0, 13.9, 12.8, 15.1, 17.3, 19.2, 16.6, 14.0, 13.7, 13.5, 14.2, 14.8, 15.1,
    12.8, 13.5, 14.4, 15.9, 17.3, 14.0, 14.8, 18.4, 11.9, 11.1, 10.2, 8.7, 9.9, 12.6, 15.5, 18.6, 18.1, 17.1, 16.2, 16.3, 16.8, 16.7, 14.2, 13.9, 12.6, 11.4, 11.7, 15.7, 11.9, 11.9, 13.7,
    14.4, 13.3, 10.7, 8.9, 7.8, 8.9, 9.7, 10.7, 14.4, 18.5, 12.2, 10.4, 9.9, 13.3, 17.7, 19.0, 16.6, 14.2, 17.3, 19.0, 16.6, 14.4, 13.9, 16.6, 18.7, 15.3, 15.0, 18.4,
    14.8, 15.1, 19.0, 21.3, 20.6, 16.0, 18.2, 16.6, 12.9, 13.5, 14.0, 15.0, 16.2, 18.4, 19.5, 19.7, 18.8, 18.1, 18.6, 19.3, 20.5, 17.7, 14.4, 13.3, 13.7, 14.4, 16.6, 17.8, 19.1, 20.4, 19.8,
]

PANELS = [
    ("N-1(a)(気温)N2～N4", ["N2", "N3", "N4"], [N2, N3, N4]),
    ("N-1(a)(気温)S2～S4", ["S2", "S3", "S4"], [S2, S3, S4]),
    ("N-1(a)(気温)E2～E4", ["E2", "E3", "E4"], [E2, E3, E4]),
    ("N-1(a)(気温)W2～W4", ["W2", "W3", "W4"], [W2, W3, W4]),
]

MONTH_TICKS = ["2017-04-01", "2017-05-01", "2017-06-01", "2017-07-01", "2017-08-01", "2017-09-01",
               "2017-10-01", "2017-11-01", "2017-12-01", "2018-01-01", "2018-02-01", "2018-03-01"]
MONTH_LABELS = ["17/04/01", "17/05/01", "17/06/01", "17/07/01", "17/08/01", "17/09/01",
                "17/10/01", "17/11/01", "17/12/01", "18/01/01", "18/02/01", "18/03/01"]

# the page body keeps its default 8px margin, so the figure is drawn 8px smaller
# and every screen position below is shifted by that margin
PAGE_MARGIN = 8
W, H = 1180 - PAGE_MARGIN, 1838 - PAGE_MARGIN
PANEL_TOPS = [0, 460, 919, 1379]
LINE_COLORS = ["#35A852", "#EE1D23", "#2E7BC4"]
GRID = "#8C8C8C"
FONT = "Noto Sans Mono CJK JP, Noto Sans CJK JP, Liberation Sans Narrow, sans-serif"
TEXT = "#1A1A1A"


def fx(px):
    return (px - PAGE_MARGIN) / W


def fy(py):
    return 1 - (py - PAGE_MARGIN) / H


fig = go.Figure()
shapes = []
annotations = []

for i, (title, names, series) in enumerate(PANELS):
    off = PANEL_TOPS[i]
    sfx = "" if i == 0 else str(i + 1)
    legend_id = "legend" + sfx

    for name, vals, color in zip(names, series, LINE_COLORS):
        fig.add_trace(go.Scatter(
            x=pd.date_range(START, periods=len(vals), freq="D"),
            y=vals,
            name=name,
            mode="lines",
            line=dict(color=color, width=2),
            xaxis="x" + sfx,
            yaxis="y" + sfx,
            legend=legend_id,
        ))

    fig.update_layout({
        "xaxis" + sfx: dict(
            domain=[fx(81), fx(1159)],
            anchor="y" + sfx,
            type="date",
            range=[START, END],
            tickvals=MONTH_TICKS + [END],
            ticktext=MONTH_LABELS + [""],
            tickangle=-90,
            ticks="outside",
            ticklen=7,
            tickwidth=2,
            tickcolor=GRID,
            showline=True,
            linecolor=GRID,
            linewidth=2,
            showgrid=False,
            zeroline=False,
            automargin=False,
            tickfont=dict(family=FONT, size=20, color=TEXT),
        ),
        "yaxis" + sfx: dict(
            domain=[fy(off + 340.7), fy(off + 66.5)],
            anchor="x" + sfx,
            range=[5, 35],
            tick0=5,
            dtick=5,
            ticks="outside",
            ticklen=7,
            tickwidth=2,
            tickcolor=GRID,
            showline=True,
            linecolor=GRID,
            linewidth=2,
            showgrid=True,
            gridcolor=GRID,
            gridwidth=2,
            zeroline=False,
            automargin=False,
            ticklabelstandoff=20,
            tickfont=dict(family=FONT, size=24, color=TEXT),
        ),
        legend_id: dict(
            x=fx(781),
            xanchor="left",
            y=fy(off + 36),
            yanchor="middle",
            orientation="h",
            bgcolor="rgba(0,0,0,0)",
            borderwidth=0,
            entrywidth=94,
            font=dict(family=FONT, size=25, color=TEXT),
        ),
    })

    # panel frame and legend box
    shapes.append(dict(
        type="rect", xref="paper", yref="paper",
        x0=fx(7), x1=fx(1171), y0=fy(off + 462), y1=fy(off + 8),
        line=dict(color="#A6A6A6", width=2.5), fillcolor="rgba(0,0,0,0)", layer="below",
    ))
    shapes.append(dict(
        type="rect", xref="paper", yref="paper",
        x0=fx(706), x1=fx(1169), y0=fy(off + 53), y1=fy(off + 19),
        line=dict(color="#000000", width=2), fillcolor="white", layer="below",
    ))
    annotations.append(dict(
        text=title, xref="paper", yref="paper", x=fx(678), y=fy(off + 39),
        xanchor="right", yanchor="middle", showarrow=False,
        font=dict(family=FONT, size=28, color=TEXT),
    ))
    annotations.append(dict(
        text="℃", xref="paper", yref="paper", x=fx(69), y=fy(off + 34),
        xanchor="center", yanchor="middle", showarrow=False,
        font=dict(family=FONT, size=22, color=TEXT),
    ))

fig.update_layout(
    width=W,
    height=H,
    margin=dict(l=0, r=0, t=0, b=0, autoexpand=False),
    paper_bgcolor="white",
    plot_bgcolor="white",
    showlegend=True,
    shapes=shapes,
    annotations=annotations,
)

fig.write_html("out.html")
